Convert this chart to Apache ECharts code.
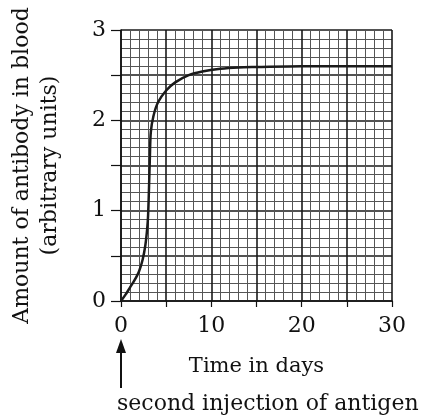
<!DOCTYPE html>
<html>
<head>
<meta charset="utf-8">
<script src="https://cdn.jsdelivr.net/npm/echarts@6/dist/echarts.min.js"></script>
<style>
  html, body { margin: 0; padding: 0; background: #fff; }
  #root { width: 427px; height: 416px; }
</style>
</head>
<body>
<div id="root"></div>
<script>
// antibody response after the second injection
var days = [0, 0.5, 1.0, 1.5, 2.0, 2.4, 2.7, 2.9, 3.0, 3.1, 3.2, 3.3, 3.6, 4.1, 5, 6, 7.5, 9, 11, 13, 15, 20, 25, 30]
var antibody = [0, 0.07, 0.15, 0.23, 0.33, 0.46, 0.62, 0.8, 0.95, 1.25, 1.6, 1.87, 2.05, 2.2, 2.33, 2.42, 2.5, 2.54, 2.57, 2.585, 2.59, 2.6, 2.6, 2.6]
var xTicks = [0, 10, 20, 30]
var yTicks = [0, 1, 2, 3]

var serif = '"DejaVu Serif", "Liberation Serif", serif'
var chart = echarts.init(document.getElementById('root'))

var option = {
    animation: false,
    grid: { left: 121, right: 35, top: 30, bottom: 115, outerBoundsMode: 'none', containLabel: false },
    xAxis: {
        type: 'value', min: 0, max: 30, interval: 5,
        name: 'Time in days', nameLocation: 'middle', nameGap: 55,
        nameTextStyle: { color: '#111', fontFamily: serif, fontSize: 21 },
        axisLine: { lineStyle: { color: '#111', width: 1.5 } },
        axisTick: { show: true, length: 6, lineStyle: { color: '#111', width: 1.2 } },
        axisLabel: {
            margin: 14, color: '#111', fontFamily: serif, fontSize: 22,
            formatter: function (v) { return xTicks.indexOf(v) >= 0 ? String(v) : '' }
        },
        splitLine: { show: true, lineStyle: { color: '#1a1a1a', width: 1.6 } },
        minorTick: { show: true, splitNumber: 5, length: 0 },
        minorSplitLine: { show: true, lineStyle: { color: '#555', width: 1 } }
    },
    yAxis: {
        type: 'value', min: 0, max: 3, interval: 0.5,
        name: 'Amount of antibody in blood\n(arbitrary units)',
        nameLocation: 'middle', nameRotate: 90, nameGap: 57,
        nameTextStyle: { color: '#111', fontFamily: serif, fontSize: 22, lineHeight: 28 },
        axisLine: { show: true, lineStyle: { color: '#111', width: 1.5 } },
        axisTick: { show: true, length: 10, lineStyle: { color: '#111', width: 1.2 } },
        axisLabel: {
            margin: 15, color: '#111', fontFamily: serif, fontSize: 22,
            formatter: function (v) { return yTicks.indexOf(v) >= 0 ? String(v) : '' }
        },
        splitLine: { show: true, lineStyle: { color: '#1a1a1a', width: 1.6 } },
        minorTick: { show: true, splitNumber: 5, length: 0 },
        minorSplitLine: { show: true, lineStyle: { color: '#555', width: 1 } }
    },
    series: [{
        type: 'line',
        data: days.map(function (d, i) { return [d, antibody[i]] }),
        smooth: 0.3,
        showSymbol: false,
        lineStyle: { color: '#1a1a1a', width: 2.5 },
        z: 5
    }]
}
chart.setOption(option)

// arrow marking the second injection at day 0
var p0 = chart.convertToPixel({ gridIndex: 0 }, [0, 0])
chart.setOption({
    graphic: [
        {
            type: 'line', shape: { x1: p0[0], y1: p0[1] + 50, x2: p0[0], y2: p0[1] + 87 },
            style: { stroke: '#111', lineWidth: 2 }
        },
        {
            type: 'polygon',
            shape: { points: [[p0[0], p0[1] + 38], [p0[0] - 5, p0[1] + 52], [p0[0] + 5, p0[1] + 52]] },
            style: { fill: '#111' }
        },
        {
            type: 'text', left: p0[0] - 4, top: p0[1] + 92,
            style: { text: 'second injection of antigen', fill: '#111', font: '22px ' + serif }
        }
    ]
})
</script>
</body>
</html>
